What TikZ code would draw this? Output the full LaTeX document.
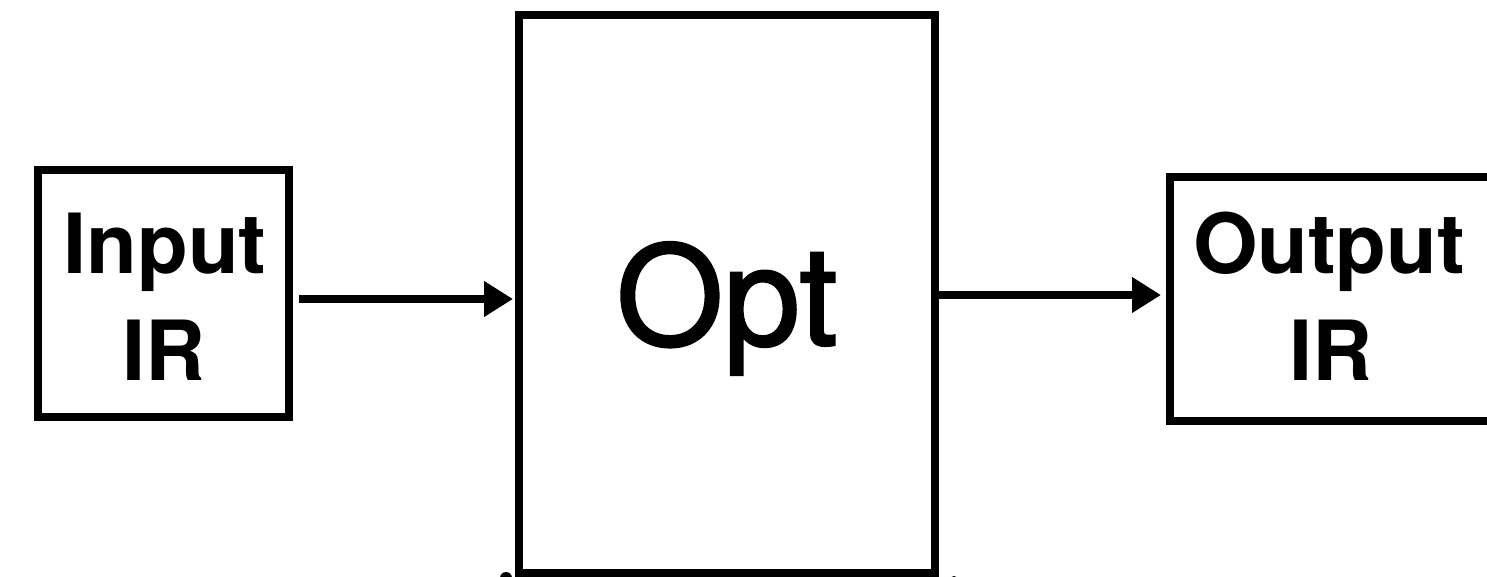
\documentclass[tikz,border=0pt]{standalone}
\usepackage{fontspec}
\setmainfont{TeX Gyre Heros}
\newfontfamily\stagefont[FakeBold=1.6]{TeX Gyre Heros}
\usetikzlibrary{arrows.meta}
\tikzset{
  box/.style={draw=black, line width=8pt, inner sep=0pt, fill=white},
  lbl/.style={anchor=base, inner sep=0pt, font=\fontsize{83}{100}\selectfont\bfseries},
  biglbl/.style={anchor=base, inner sep=0pt, font=\stagefont\fontsize{138}{160}\selectfont},
  flow/.style={line width=8pt, -{Triangle[length=29pt, width=34pt]}},
}
\begin{document}
\begin{tikzpicture}[x=1pt, y=-1pt]
  \useasboundingbox (0,0) rectangle (1487,577);
  \clip (0,0) rectangle (1487,577);
  \fill[white] (0,0) rectangle (1487,577);

  % the three stages
  \node[box, minimum width=251pt, minimum height=247pt] (in) at (163.5,293.5) {};
  \node[box, minimum width=416pt, minimum height=558pt] (opt) at (727,294) {};
  \node[box, minimum width=330pt, minimum height=244pt] (out) at (1335,299) {};

  % labels
  \node[lbl] (inT) at (165,273) {Input};
  \node[lbl] (inR) at (164,380) {IR};
  \node[biglbl] (optT) at (727,345) {Opt};
  \node[lbl] (outT) at (1329,273) {Output};
  \node[lbl] (outR) at (1331,380) {IR};

  % data flow
  \draw[flow, shorten <=6pt, shorten >=2pt] (in.east |- 0,299) -- (opt.west |- 0,299);
  \draw[flow, shorten >=5pt] (opt.east |- 0,295) -- (out.west |- 0,295);

  % marks entering from below
  \coordinate (mA) at (506,578);
  \coordinate (mB) at (954,580);
  \fill (mA) circle (6pt);
  \fill (mB) circle (4pt);
\end{tikzpicture}
\end{document}
